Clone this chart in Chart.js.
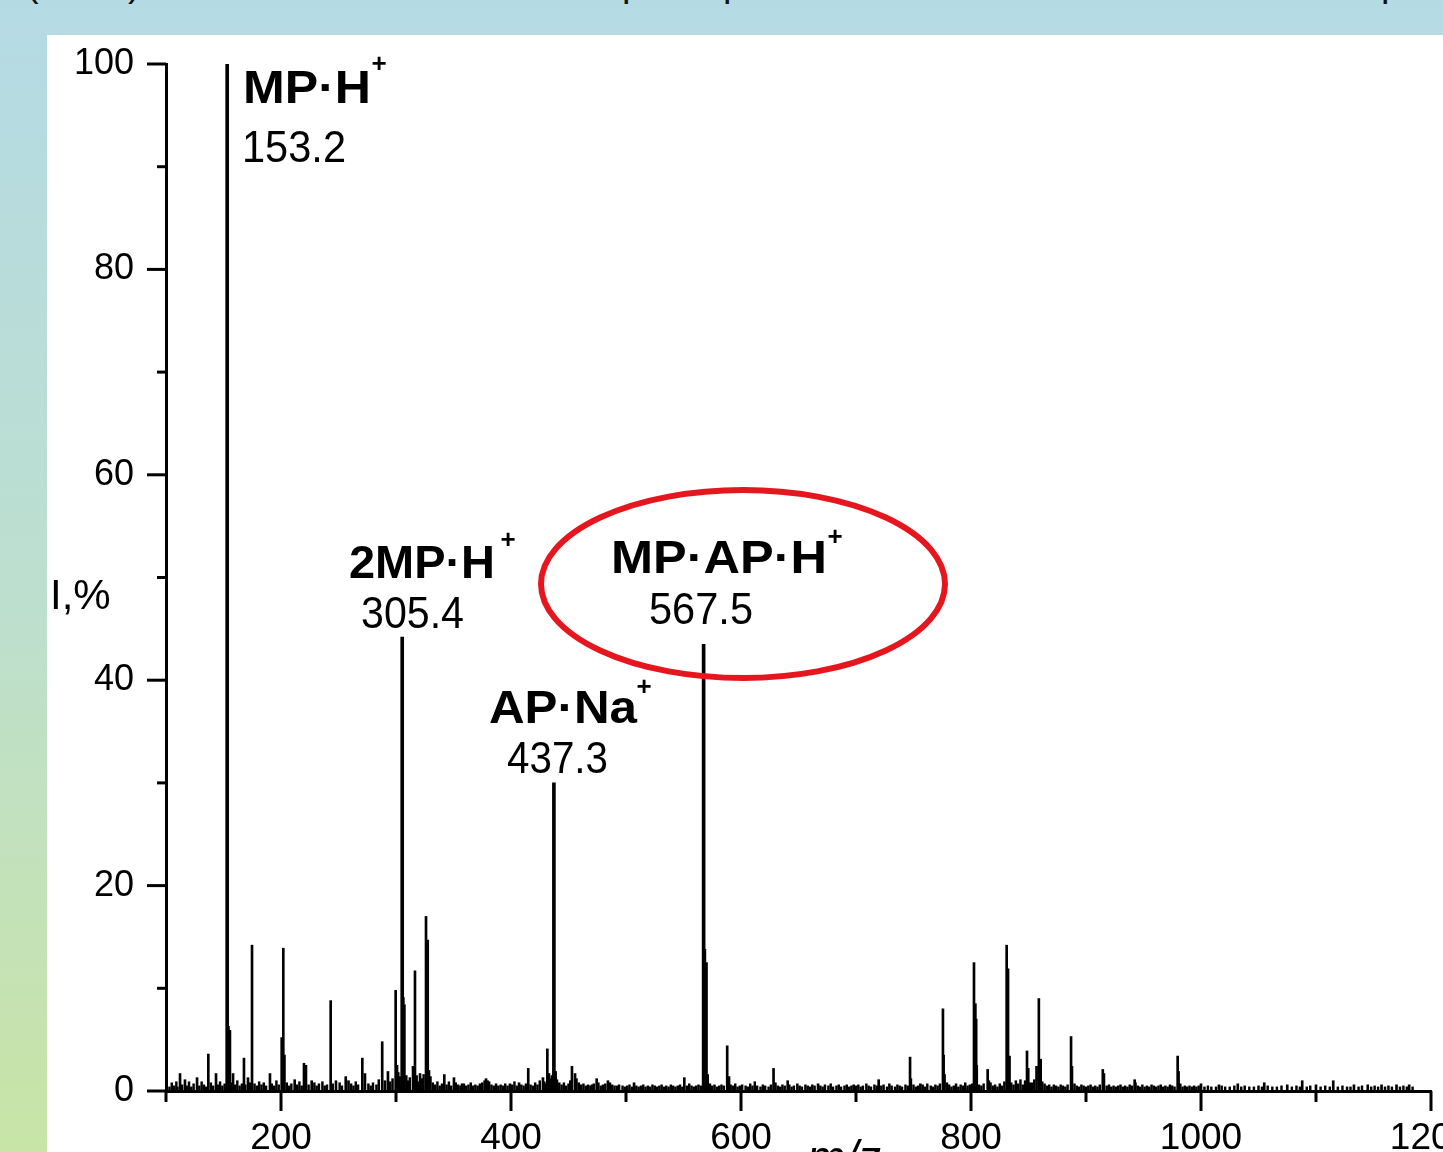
<!DOCTYPE html>
<html lang="en">
<head>
  <meta charset="UTF-8">
  <title>Mass spectrum</title>
  <script src="https://cdn.jsdelivr.net/npm/chart.js"></script>
  <style>
    html, body {
      margin: 0;
      padding: 0;
      width: 1443px;
      height: 1152px;
      overflow: hidden;
    }
    body {
      position: relative;
      background: linear-gradient(to bottom, #b4dae4 0%, #bddfd0 50%, #c8e4a6 100%);
      font-family: Arial, "Liberation Sans", sans-serif;
    }
    #plot {
      position: absolute;
      left: 47px;
      top: 35px;
      width: 1396px;
      height: 1117px;
      background: #fff;
    }
    .cut {
      position: absolute;
      top: -36px;
      font-size: 38px;
      line-height: 38px;
      color: #111;
    }
  </style>
</head>
<body>

  <!-- bits of the line of text above, cut by the frame -->
  <span class="cut" style="left:26px">(</span>
  <span class="cut" style="left:128px">)</span>
  <span class="cut" style="left:622px">p</span>
  <span class="cut" style="left:723px">p</span>
  <span class="cut" style="left:1381px">p</span>

  <div id="plot">
    <canvas id="spectrum" width="1396" height="1117"></canvas>
  </div>

  <script>
    // axis ranges
    const xMin = 100, xMax = 1200;
    const yMin = 0, yMax = 100;

    // labelled peaks (m/z, I %)
    const mainMz  = [153.2, 305.4, 437.3, 567.5];
    const mainInt = [100, 44.2, 30.0, 43.5];
    const mainNames = ['MP·H', '2MP·H', 'AP·Na', 'MP·AP·H'];
    const mainTexts = ['153.2', '305.4', '437.3', '567.5'];

    // other visible peaks
    const minorMz  = [112.2, 116.5, 127, 136.8, 143.5, 154.3, 155.6, 158.3, 167.8, 171.3,
                      174.8, 190.4, 200.6, 202, 203, 211.9, 220, 221.7, 226.7, 243.2,
                      247.8, 256.3, 258.7, 270.7, 273, 288, 290.4, 293, 299.7, 300.9,
                      306.4, 307.3, 314.8, 316.5, 320.9, 326.1, 327.6, 328.7, 342, 350.4,
                      357.4, 378.3, 379.6, 399.1, 407, 415, 427.8, 431.6, 433, 438.8,
                      453, 455.7, 470.4, 474.5, 484.3, 486, 507, 550.7, 568.6, 570,
                      571, 588, 589.6, 628.3, 640.6, 667, 698, 719.7, 747, 747.7,
                      756, 775.6, 776.2, 777, 779, 802.6, 803.8, 804.5, 805, 814.5,
                      815.5, 831, 832.2, 833.5, 848.7, 849.8, 851, 857, 859, 860.6,
                      887, 887.8, 914.6, 915.6, 942.3, 943, 979.7, 980.5, 1000, 1015.6,
                      1032, 1055, 1075, 1088, 1100, 1115, 1133, 1145, 1157, 1170, 1181];
    const minorInt = [1.7, 1.1, 1.3, 3.6, 1.7, 6.3, 5.9, 1.7, 3.2, 1.3,
                      14.2, 1.7, 5.2, 13.9, 3.5, 1.1, 2.7, 2.5, 1.0, 8.8,
                      1.0, 1.4, 1.0, 3.2, 1.7, 4.8, 1.0, 1.9, 9.8, 2.5,
                      9.1, 8.4, 2.4, 11.7, 1.7, 17.0, 14.7, 2.0, 1.6, 1.3,
                      0.7, 1.2, 1.0, 0.7, 0.8, 2.2, 1.3, 4.1, 1.7, 1.9,
                      2.4, 1.7, 0.6, 1.2, 1.0, 0.8, 0.8, 1.3, 13.8, 12.5,
                      1.6, 4.4, 1.4, 2.2, 1.0, 0.7, 0.6, 1.1, 3.3, 1.2,
                      0.7, 8.0, 3.5, 1.6, 0.8, 12.5, 8.5, 7.0, 2.5, 2.1,
                      1.0, 14.2, 11.9, 3.4, 3.9, 2.2, 0.8, 2.4, 9.0, 3.1,
                      5.3, 2.4, 2.1, 1.7, 1.1, 0.8, 3.4, 1.9, 0.7, 0.6,
                      0.7, 0.8, 0.6, 1.0, 0.6, 1.0, 0.6, 0.6, 0.6, 0.6, 0.6];

    // baseline noise
    const noiseMz  = [100.5, 103, 105, 107, 109, 110, 114, 118, 120, 122, 124, 129, 131, 133, 135, 139, 141, 145, 147, 149,
                      151, 157, 160, 162, 164, 166, 169, 173, 177, 179, 181, 183, 185, 187, 192, 194, 196, 198, 205, 207,
                      209, 214, 216, 218, 224, 229, 231, 233, 236, 238, 240, 245, 251, 253, 261, 263, 265, 267, 276, 278,
                      280, 283, 285, 295, 297, 302, 303.5, 309, 310.5, 312, 318, 319.5, 322.5, 324, 330, 332, 334, 336, 338, 340,
                      344, 346, 348, 352, 354, 356, 359, 361, 363, 365, 367, 369, 371, 373, 375, 377, 381, 383, 385, 387,
                      389, 391, 393, 395, 397, 401, 403, 405, 409, 411, 413, 417, 419, 421, 423, 425, 429, 430, 434, 435.5,
                      440, 442, 444, 446, 448, 450, 451.5, 457, 459, 461, 463, 465, 467, 469, 472, 476, 478, 480, 482, 488,
                      490, 492, 494, 497, 499, 501, 503, 505, 509, 511, 513, 515, 517, 519, 521, 523, 525, 527, 529, 531,
                      533, 535, 537, 539, 541, 543, 545, 547, 549, 553, 555, 557, 559, 561, 563, 565, 573, 575, 577, 579,
                      581, 583, 585, 591, 593, 595, 597, 599, 601, 604, 606, 608, 610, 612, 614, 617, 619, 621, 624, 626,
                      630, 632, 634, 636, 638, 642, 644, 646, 649, 651, 653, 656, 658, 660, 662, 664, 669, 671, 673, 676,
                      678, 680, 683, 685, 687, 690, 692, 694, 696, 700, 702, 704, 706, 709, 711, 713, 716, 718, 722, 724,
                      727, 729, 731, 734, 736, 738, 740, 743, 745, 750, 752, 754, 758, 760, 762, 765, 767, 769, 771, 773,
                      781, 783, 785, 787, 789, 791, 793, 795, 797, 799, 801, 807, 809, 811, 817, 819, 821, 823, 825, 827,
                      829, 835, 837, 839, 841, 843, 845, 847, 853, 855, 862, 864, 866, 868, 870, 872, 874, 876, 878, 880,
                      882, 884, 890, 892, 894, 896, 898, 900, 902, 904, 906, 908, 910, 912, 918, 920, 922, 924, 926, 928,
                      930, 932, 934, 936, 938, 940, 945, 947, 949, 951, 953, 955, 957, 959, 961, 963, 965, 967, 969, 971,
                      973, 975, 977, 982, 984, 986, 988, 990, 992, 994, 996, 998, 1003, 1006, 1009, 1013, 1018, 1021, 1025, 1029,
                      1035, 1038, 1042, 1046, 1050, 1053, 1058, 1062, 1066, 1070, 1079, 1083, 1086, 1092, 1095, 1104, 1108, 1112, 1119, 1123,
                      1127, 1130, 1137, 1140, 1148, 1151, 1154, 1160, 1163, 1166, 1173, 1176, 1179, 1184];
    const noiseInt = [0.5, 0.4, 0.8, 0.5, 0.9, 0.4, 0.6, 0.5, 0.9, 0.4, 0.7, 0.5, 0.9, 0.6, 0.4, 0.8, 0.5, 0.6, 0.9, 0.5,
                      0.7, 0.8, 0.6, 1.0, 0.5, 0.7, 0.6, 0.8, 0.7, 0.5, 0.9, 0.6, 0.8, 0.5, 0.7, 0.5, 1.0, 0.6, 0.8, 0.5,
                      0.7, 0.6, 0.9, 0.5, 0.6, 0.8, 0.5, 0.7, 0.9, 0.5, 0.6, 0.7, 0.8, 0.5, 0.7, 0.5, 0.9, 0.6, 0.7, 0.5,
                      0.8, 0.6, 1.1, 0.9, 1.2, 1.8, 1.4, 1.5, 1.0, 1.3, 1.5, 0.9, 1.2, 1.6, 1.4, 0.8, 0.6, 0.9, 0.5, 0.7,
                      0.6, 0.9, 0.5, 0.8, 0.6, 0.5, 0.7, 0.5, 0.6, 0.8, 0.5, 0.6, 0.5, 0.7, 0.8, 1.0, 0.9, 0.6, 0.5, 0.7,
                      0.5, 0.6, 0.5, 0.7, 0.5, 0.6, 0.9, 0.5, 0.6, 0.5, 0.7, 0.6, 0.5, 0.8, 0.6, 1.0, 0.9, 0.7, 1.2, 1.5,
                      1.1, 0.8, 0.6, 0.8, 0.5, 0.7, 1.0, 1.2, 0.8, 0.6, 0.7, 0.5, 0.6, 0.5, 0.7, 0.8, 0.5, 0.6, 0.7, 0.6,
                      0.5, 0.5, 0.6, 0.5, 0.4, 0.5, 0.6, 0.4, 0.5, 0.4, 0.5, 0.6, 0.4, 0.5, 0.4, 0.6, 0.5, 0.4, 0.5, 0.6,
                      0.4, 0.5, 0.4, 0.6, 0.5, 0.4, 0.5, 0.6, 0.4, 0.5, 0.7, 0.5, 0.4, 0.5, 0.6, 0.5, 0.7, 0.5, 0.6, 0.4,
                      0.5, 0.6, 0.5, 0.6, 0.5, 0.7, 0.4, 0.5, 0.6, 0.5, 0.4, 0.7, 0.5, 0.9, 0.5, 0.4, 0.6, 0.5, 0.4, 0.6,
                      0.8, 0.5, 0.4, 0.6, 0.5, 0.6, 0.4, 0.5, 0.7, 0.5, 0.4, 0.6, 0.5, 0.4, 0.6, 0.5, 0.5, 0.4, 0.6, 0.5,
                      0.7, 0.4, 0.5, 0.6, 0.4, 0.5, 0.6, 0.4, 0.5, 0.5, 0.6, 0.4, 0.5, 0.7, 0.5, 0.4, 0.6, 0.5, 0.5, 0.6,
                      0.4, 0.7, 0.5, 0.4, 0.6, 0.5, 0.4, 0.6, 0.5, 0.6, 0.4, 0.5, 0.6, 0.4, 0.7, 0.5, 0.4, 0.6, 0.5, 0.7,
                      0.6, 0.4, 0.5, 0.7, 0.4, 0.6, 0.5, 0.8, 0.5, 0.6, 0.7, 0.6, 0.5, 0.7, 0.8, 0.5, 0.6, 0.4, 0.7, 0.5,
                      0.9, 0.8, 0.6, 1.0, 0.7, 1.1, 0.6, 1.0, 0.8, 1.1, 0.9, 0.7, 0.5, 0.6, 0.4, 0.6, 0.5, 0.4, 0.6, 0.5,
                      0.4, 0.6, 0.7, 0.5, 0.4, 0.6, 0.5, 0.4, 0.5, 0.6, 0.4, 0.5, 0.4, 0.6, 0.5, 0.6, 0.4, 0.5, 0.4, 0.5,
                      0.6, 0.4, 0.5, 0.4, 0.6, 0.5, 0.5, 0.4, 0.6, 0.4, 0.5, 0.4, 0.6, 0.5, 0.4, 0.5, 0.6, 0.4, 0.5, 0.4,
                      0.6, 0.5, 0.4, 0.7, 0.4, 0.5, 0.4, 0.5, 0.4, 0.5, 0.4, 0.5, 0.4, 0.5, 0.4, 0.4, 0.5, 0.4, 0.4, 0.5,
                      0.4, 0.5, 0.4, 0.4, 0.5, 0.4, 0.5, 0.4, 0.4, 0.5, 0.4, 0.5, 0.4, 0.4, 0.5, 0.4, 0.5, 0.4, 0.4, 0.5,
                      0.4, 0.4, 0.4, 0.5, 0.4, 0.5, 0.4, 0.4, 0.5, 0.4, 0.4, 0.5, 0.4, 0.4];

    const toPoints = (xs, ys) => xs.map((m, i) => ({ x: m, y: ys[i] }));

    const FONT = 'Arial, "Liberation Sans", sans-serif';

    // stretch/squeeze a text to the width it has in the picture
    function fitText(ctx, text, left, base, font, width) {
      ctx.font = font;
      const w = ctx.measureText(text).width;
      ctx.save();
      ctx.translate(left, base);
      ctx.scale(width / w, 1);
      ctx.fillText(text, 0, 0);
      ctx.restore();
    }

    // ticks, peak labels, the red ring and the axis titles
    const decorPlugin = {
      id: 'decor',
      afterDraw(chart) {
        const { ctx, chartArea, scales: { x, y } } = chart;
        ctx.save();
        ctx.strokeStyle = '#000';
        ctx.lineWidth = 3;
        ctx.lineCap = 'butt';
        x.ticks.forEach(t => {
          const px = x.getPixelForValue(t.value);
          const len = t.value % 200 === 0 ? 20 : 11;
          ctx.beginPath();
          ctx.moveTo(px, chartArea.bottom);
          ctx.lineTo(px, chartArea.bottom + len);
          ctx.stroke();
        });
        y.ticks.forEach(t => {
          const py = y.getPixelForValue(t.value);
          const len = t.value % 20 === 0 ? 19 : 9;
          ctx.beginPath();
          ctx.moveTo(chartArea.left, py);
          ctx.lineTo(chartArea.left - len, py);
          ctx.stroke();
        });

        // peak labels: [left, baseline, width] of name, plus sign centre, number
        const layout = [
          { name: [196, 68, 128],  plus: [332, 30],  num: [195, 127, 104] },
          { name: [302, 543, 146], plus: [461, 506], num: [314, 593, 103] },
          { name: [442, 688, 148], plus: [597, 653], num: [460, 738, 101] },
          { name: [564, 538, 216], plus: [788, 503], num: [602, 589, 104] }
        ];
        ctx.fillStyle = '#000';
        ctx.textBaseline = 'alphabetic';
        ctx.textAlign = 'left';
        layout.forEach((l, i) => {
          fitText(ctx, mainNames[i], l.name[0], l.name[1], 'bold 46px ' + FONT, l.name[2]);
          ctx.save();
          ctx.font = 'bold 26px ' + FONT;
          ctx.textAlign = 'center';
          ctx.textBaseline = 'middle';
          ctx.fillText('+', l.plus[0], l.plus[1]);
          ctx.restore();
          fitText(ctx, mainTexts[i], l.num[0], l.num[1], '45px ' + FONT, l.num[2]);
        });

        // red ring round MP·AP·H+
        ctx.strokeStyle = '#e5161e';
        ctx.lineWidth = 6;
        ctx.beginPath();
        ctx.ellipse(696, 549, 202, 94, 0, 0, Math.PI * 2);
        ctx.stroke();

        // axis titles
        ctx.fillStyle = '#000';
        ctx.font = '42px ' + FONT;
        ctx.fillText('I,%', 3, 574);
        ctx.font = 'italic 46px ' + FONT;
        ctx.fillText('m/z', 760, 1138);
        ctx.restore();
      }
    };

    const ctx = document.getElementById('spectrum').getContext('2d');

    new Chart(ctx, {
      type: 'bar',
      data: {
        datasets: [
          {
            label: 'labelled',
            data: toPoints(mainMz, mainInt),
            backgroundColor: '#000',
            barThickness: 3,
            grouped: false
          },
          {
            label: 'peaks',
            data: toPoints(minorMz, minorInt),
            backgroundColor: '#000',
            barThickness: 2,
            grouped: false
          },
          {
            label: 'noise',
            data: toPoints(noiseMz, noiseInt),
            backgroundColor: '#000',
            barThickness: 1.8,
            grouped: false
          }
        ]
      },
      options: {
        responsive: false,
        animation: false,
        layout: { padding: { top: 29, right: 12, bottom: 0, left: 0 } },
        plugins: {
          legend: { display: false },
          tooltip: { enabled: false }
        },
        scales: {
          x: {
            type: 'linear',
            min: xMin,
            max: xMax,
            offset: false,
            grid: { display: true, drawOnChartArea: false, tickLength: 20, tickColor: 'transparent' },
            border: { display: true, width: 3, color: '#000' },
            ticks: {
              stepSize: 100,
              autoSkip: false,
              maxRotation: 0,
              padding: 6,
              color: '#000',
              font: { family: FONT, size: 37 },
              callback: v => (v % 200 === 0 ? v : '')
            },
            afterFit(scale) {
              scale.height = 61;
              scale.paddingLeft = 0;
              scale.paddingRight = 0;
            }
          },
          y: {
            min: yMin,
            max: yMax,
            grid: { display: true, drawOnChartArea: false, tickLength: 19, tickColor: 'transparent' },
            border: { display: true, width: 3, color: '#000' },
            ticks: {
              stepSize: 10,
              autoSkip: false,
              padding: 13,
              color: '#000',
              font: { family: FONT, size: 36 },
              callback: v => (v % 20 === 0 ? v : '')
            },
            afterFit(scale) {
              scale.width = 119;
              scale.paddingTop = 0;
              scale.paddingBottom = 0;
            }
          }
        }
      },
      plugins: [decorPlugin]
    });
  </script>

</body>
</html>
